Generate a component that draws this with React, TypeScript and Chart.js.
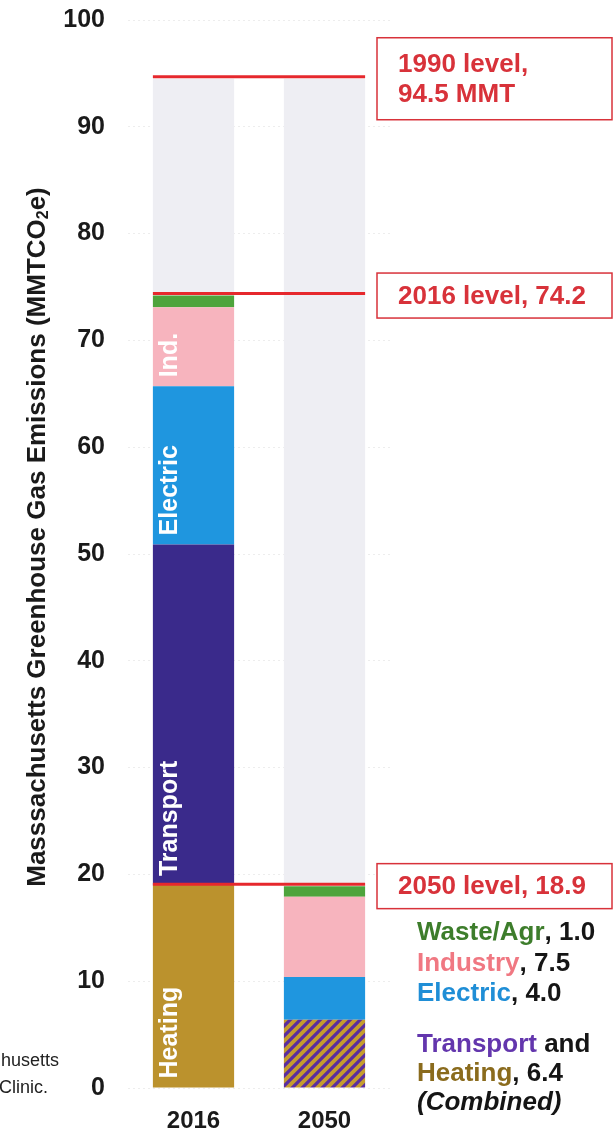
import React, { useEffect, useRef } from 'react';
import { Chart, registerables } from 'chart.js';

Chart.register(...registerables);

// ---- Data ----
const categories = ['2016', '2050'];
const heating = [19.0, null];
const transport = [31.9, null];
const transportHeatingCombined = [null, 6.4];
const electric = [14.8, 4.0];
const industry = [7.4, 7.5];
const wasteAgr = [1.1, 1.0];
const level1990 = 94.5;
const level2016 = 74.2;
const level2050 = 18.9;
const stackTotals = [level2016, level2050];
const remainderTo1990 = stackTotals.map((t) => +(level1990 - t).toFixed(1));
const yMin = 0;
const yMax = 100;
const yStep = 10;

const boxLabels = [
  { value: level1990, lines: ['1990 level,', '94.5 MMT'] },
  { value: level2016, lines: ['2016 level, 74.2'] },
  { value: level2050, lines: ['2050 level, 18.9'] },
];

// label text -> dataset index (in the 2016 stack)
const barLabels2016 = [
  { text: 'Heating', ds: 0 },
  { text: 'Transport', ds: 1 },
  { text: 'Electric', ds: 3 },
  { text: 'Ind.', ds: 4 },
];

const legendLines = [
  [{ t: 'Waste/Agr', c: '#3d7d2b' }, { t: ', 1.0', c: '#151515' }],
  [{ t: 'Industry', c: '#f07882' }, { t: ', 7.5', c: '#151515' }],
  [{ t: 'Electric', c: '#1f8ed6' }, { t: ', 4.0', c: '#151515' }],
  [{ t: 'Transport', c: '#6336ad' }, { t: ' and', c: '#151515' }],
  [{ t: 'Heating', c: '#8a6b1d' }, { t: ', 6.4', c: '#151515' }],
  [{ t: '(Combined)', c: '#151515', italic: true }],
];

const FONT = "'Liberation Sans', Arial, sans-serif";

const COLORS = {
  heating: '#bb922d',
  transport: '#3a2a8b',
  electric: '#1f96df',
  industry: '#f7b4be',
  waste: '#4ea43c',
  gray: '#eeeef3',
  red: '#e6282d',
  boxRed: '#d8323a',
  text: '#1a1a1a',
};

function makeHatch(): CanvasPattern | string {
  const c = document.createElement('canvas');
  c.width = 10;
  c.height = 10;
  const g = c.getContext('2d');
  if (!g) return COLORS.heating;
  g.fillStyle = '#c59c2e';
  g.fillRect(0, 0, 10, 10);
  g.strokeStyle = '#5a2d9f';
  g.lineWidth = 3.2;
  g.lineCap = 'square';
  g.beginPath();
  g.moveTo(-2, 12);
  g.lineTo(12, -2);
  g.moveTo(-7, 7);
  g.lineTo(7, -7);
  g.moveTo(3, 17);
  g.lineTo(17, 3);
  g.stroke();
  const p = g.createPattern(c, 'repeat');
  return p || COLORS.heating;
}

const annotPlugin = {
  id: 'annot',
  afterDatasetsDraw(chart: any) {
    const ctx = chart.ctx as CanvasRenderingContext2D;
    const yScale = chart.scales.y;
    const grayMeta = chart.getDatasetMeta(chart.data.datasets.length - 1);
    const b0 = grayMeta.data[0];
    const b1 = grayMeta.data[1];
    const xL = b0.x - b0.width / 2;
    const xR = b1.x + b1.width / 2;

    // bar labels inside 2016 stack
    ctx.save();
    ctx.fillStyle = '#ffffff';
    ctx.font = `bold 25px ${FONT}`;
    ctx.textAlign = 'left';
    ctx.textBaseline = 'middle';
    barLabels2016.forEach((lab) => {
      const el = chart.getDatasetMeta(lab.ds).data[0];
      const bx = el.x - el.width / 2 + 17;
      const by = el.base - 9;
      ctx.save();
      ctx.translate(bx, by);
      ctx.rotate(-Math.PI / 2);
      ctx.fillText(lab.text, 0, 0);
      ctx.restore();
    });
    ctx.restore();

    // red level lines
    ctx.save();
    ctx.strokeStyle = COLORS.red;
    ctx.lineWidth = 3;
    [level1990, level2016, level2050].forEach((v) => {
      const y = yScale.getPixelForValue(v) - 2;
      ctx.beginPath();
      ctx.moveTo(xL, y);
      ctx.lineTo(xR, y);
      ctx.stroke();
    });
    ctx.restore();
  },
  afterDraw(chart: any) {
    const ctx = chart.ctx as CanvasRenderingContext2D;
    const yScale = chart.scales.y;

    // label boxes
    ctx.save();
    const boxX = 377;
    const boxW = 235;
    boxLabels.forEach((b) => {
      const cy = yScale.getPixelForValue(b.value);
      const lh = 30;
      const h = b.lines.length === 1 ? 45 : 82;
      const top = cy - h / 2;
      ctx.fillStyle = '#ffffff';
      ctx.fillRect(boxX, top, boxW, h);
      ctx.strokeStyle = COLORS.boxRed;
      ctx.lineWidth = 1.5;
      ctx.strokeRect(boxX, top, boxW, h);
      ctx.fillStyle = COLORS.boxRed;
      ctx.font = `bold 26px ${FONT}`;
      ctx.textAlign = 'left';
      ctx.textBaseline = 'middle';
      const n = b.lines.length;
      b.lines.forEach((ln, i) => {
        const ly = cy + (i - (n - 1) / 2) * lh + 1;
        ctx.fillText(ln, boxX + 21, ly);
      });
    });
    ctx.restore();

    // legend text on the right
    ctx.save();
    ctx.textAlign = 'left';
    ctx.textBaseline = 'middle';
    const legendY = [933, 964, 994, 1045, 1074, 1103];
    legendLines.forEach((runs, i) => {
      let x = 417;
      runs.forEach((r: any) => {
        ctx.font = `${r.italic ? 'italic ' : ''}bold 26px ${FONT}`;
        ctx.fillStyle = r.c;
        ctx.fillText(r.t, x, legendY[i]);
        x += ctx.measureText(r.t).width;
      });
    });
    ctx.restore();

    // y-axis title with subscript
    ctx.save();
    ctx.translate(38, 537);
    ctx.rotate(-Math.PI / 2);
    ctx.fillStyle = COLORS.text;
    ctx.textBaseline = 'middle';
    ctx.textAlign = 'left';
    const main = 'Masssachusetts Greenhouse Gas Emissions (MMTCO';
    const sub = '2';
    const tail = 'e)';
    const big = `bold 26px ${FONT}`;
    const small = `bold 16px ${FONT}`;
    ctx.font = big;
    const wMain = ctx.measureText(main).width;
    const wTail = ctx.measureText(tail).width;
    ctx.font = small;
    const wSub = ctx.measureText(sub).width;
    const total = wMain + wSub + wTail;
    let x = -total / 2;
    ctx.font = big;
    ctx.fillText(main, x, 0);
    x += wMain;
    ctx.font = small;
    ctx.fillText(sub, x, 6);
    x += wSub;
    ctx.font = big;
    ctx.fillText(tail, x, 0);
    ctx.restore();

    // cropped source fragment at bottom-left
    ctx.save();
    ctx.fillStyle = '#222222';
    ctx.font = `18px ${FONT}`;
    ctx.textAlign = 'right';
    ctx.textBaseline = 'middle';
    ctx.fillText('husetts', 59, 1061);
    ctx.fillText('Clinic.', 48, 1088);
    ctx.restore();
  },
};

export default function App() {
  const ref = useRef<HTMLCanvasElement | null>(null);

  useEffect(() => {
    if (!ref.current) return;
    const hatch = makeHatch();
    const chart = new Chart(ref.current, {
      type: 'bar',
      data: {
        labels: categories,
        datasets: [
          { label: 'Heating', data: heating, backgroundColor: COLORS.heating },
          { label: 'Transport', data: transport, backgroundColor: COLORS.transport },
          { label: 'Transport and Heating (Combined)', data: transportHeatingCombined, backgroundColor: hatch as any },
          { label: 'Electric', data: electric, backgroundColor: COLORS.electric },
          { label: 'Industry', data: industry, backgroundColor: COLORS.industry },
          { label: 'Waste/Agr', data: wasteAgr, backgroundColor: COLORS.waste },
          { label: 'Remaining to 1990 level', data: remainderTo1990, backgroundColor: COLORS.gray },
        ] as any,
      },
      options: {
        responsive: false,
        maintainAspectRatio: false,
        devicePixelRatio: 1,
        animation: false,
        layout: { padding: { top: 20, right: 225, bottom: 2, left: 0 } },
        datasets: { bar: { categoryPercentage: 1, barPercentage: 0.62 } } as any,
        plugins: {
          legend: { display: false },
          tooltip: { enabled: false },
          title: { display: false },
        },
        scales: {
          x: {
            stacked: true,
            grid: { display: false },
            border: { display: false },
            ticks: {
              color: COLORS.text,
              font: { family: FONT, size: 24, weight: 'bold' },
              padding: 11,
            },
            afterFit(s: any) {
              s.height = 44;
              s.paddingLeft = 0;
              s.paddingRight = 0;
            },
          },
          y: {
            stacked: true,
            min: yMin,
            max: yMax,
            grid: { drawTicks: false, color: 'rgba(0,0,0,0.07)' },
            border: { display: false, dash: [2, 3] },
            ticks: {
              stepSize: yStep,
              color: COLORS.text,
              font: { family: FONT, size: 25, weight: 'bold' },
              padding: 23,
            },
            afterFit(s: any) {
              s.width = 128;
              s.paddingTop = 0;
              s.paddingBottom = 0;
            },
          },
        } as any,
      },
      plugins: [annotPlugin],
    } as any);
    return () => chart.destroy();
  }, []);

  return (
    <div style={{ position: 'absolute', left: 0, top: 0, width: 615, height: 1134, background: '#ffffff' }}>
      <canvas ref={ref} width={615} height={1134} style={{ display: 'block' }} />
    </div>
  );
}
